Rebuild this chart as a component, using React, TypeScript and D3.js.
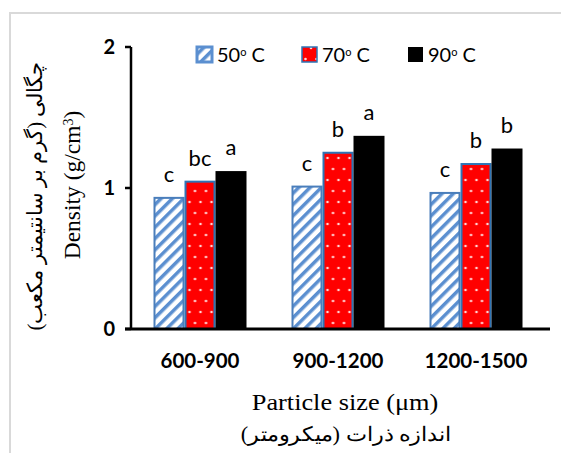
import React from 'react';
import * as d3 from 'd3';

// chart data
const sizes = ['600-900', '900-1200', '1200-1500'];
const temps = ['50', '70', '90'];
const density50 = [0.93, 1.01, 0.965];
const density70 = [1.045, 1.25, 1.17];
const density90 = [1.12, 1.37, 1.28];
const letters50 = ['c', 'c', 'c'];
const letters70 = ['bc', 'b', 'b'];
const letters90 = ['a', 'a', 'b'];
const yTicks = [0, 1, 2];

const seriesValues = [density50, density70, density90];
const seriesLetters = [letters50, letters70, letters90];

export default function App() {
  const width = 561;
  const height = 453;
  const plot = { left: 131, right: 545, top: 47, bottom: 329 };

  const x0 = d3
    .scaleBand<string>()
    .domain(sizes)
    .range([plot.left, plot.right])
    .paddingInner(45 / 138)
    .paddingOuter(45 / 276);
  const x1 = d3.scaleBand<string>().domain(temps).range([0, x0.bandwidth()]).padding(0);
  const y = d3.scaleLinear().domain([0, 2]).range([plot.bottom, plot.top]);

  const fills = ['url(#hatch)', 'url(#dots)', '#000'];
  const strokes = ['#4a7ebb', '#2e75b6', 'none'];
  const calibri = 'Lato, "Open Sans", sans-serif';
  const times = '"Liberation Serif", "DejaVu Serif", serif';

  const legendX = [197, 302, 408];

  return (
    <>
      <style>{`body{margin:0}`}</style>
      <svg width={width} height={height} style={{ display: 'block', background: '#fff' }}>
        <defs>
          <pattern id="hatch" width="8" height="8" patternUnits="userSpaceOnUse" patternTransform="rotate(45)">
            <rect width="8" height="8" fill="#fff" />
            <rect width="3.5" height="8" fill="#5b8fd0" />
          </pattern>
          <pattern id="dots" width="11" height="22" patternUnits="userSpaceOnUse">
            <rect width="11" height="22" fill="#ff0000" />
            <circle cx="3" cy="4" r="1.3" fill="#ffd6d6" />
            <circle cx="8.5" cy="15" r="1.3" fill="#ffd6d6" />
          </pattern>
        </defs>

        {/* frame */}
        <line x1={10} x2={10} y1={12} y2={height} stroke="#d9d9d9" strokeWidth={2} />
        <line x1={9} x2={width} y1={13} y2={13} stroke="#d9d9d9" strokeWidth={2} />

        {/* bars */}
        {sizes.map((s, i) => (
          <g key={s} transform={`translate(${x0(s)},0)`}>
            {temps.map((t, j) => {
              const v = seriesValues[j][i];
              const bx = x1(t)!;
              return (
                <g key={t}>
                  <rect
                    x={bx + (strokes[j] === 'none' ? 0 : 1)}
                    y={y(v)}
                    width={x1.bandwidth() - (strokes[j] === 'none' ? 0 : 2)}
                    height={y(0) - y(v)}
                    fill={fills[j]}
                    stroke={strokes[j]}
                    strokeWidth={2}
                  />
                  <text
                    x={bx + x1.bandwidth() / 2}
                    y={y(v) - 16}
                    textAnchor="middle"
                    fontFamily={calibri}
                    fontSize={22}
                    fill="#000"
                  >
                    {seriesLetters[j][i]}
                  </text>
                </g>
              );
            })}
          </g>
        ))}

        {/* y axis */}
        <line x1={plot.left} x2={plot.left} y1={y(2)} y2={y(0)} stroke="#000" strokeWidth={2.5} />
        {yTicks.map((t) => (
          <g key={t}>
            <line x1={plot.left - 6} x2={plot.left} y1={y(t)} y2={y(t)} stroke="#000" strokeWidth={2.5} />
            <text
              x={115}
              y={y(t)}
              dy="0.35em"
              textAnchor="end"
              fontFamily={calibri}
              fontWeight="bold"
              fontSize={20}
            >
              {t}
            </text>
          </g>
        ))}

        {/* x axis */}
        <line x1={plot.left - 6} x2={550} y1={y(0)} y2={y(0)} stroke="#000" strokeWidth={3} />
        {sizes.map((s) => (
          <text
            key={s}
            x={x0(s)! + x0.bandwidth() / 2}
            y={368}
            textAnchor="middle"
            fontFamily={calibri}
            fontWeight="bold"
            fontSize={20.5}
          >
            {s}
          </text>
        ))}

        {/* axis titles */}
        <text transform="translate(345,410) scale(1.17,1)" textAnchor="middle" fontFamily={times} fontSize={22.5}>
          Particle size (μm)
        </text>
        <text
          transform="translate(346,441) scale(1.12,1)"
          textAnchor="middle"
          fontFamily={times}
          fontSize={20}
          direction="rtl"
        >
          اندازه ذرات (میکرومتر)
        </text>
        <text transform="translate(80,185) rotate(-90)" textAnchor="middle" fontFamily={times} fontSize={23.5}>
          Density (g/cm
          <tspan baselineShift="super" fontSize={14}>3</tspan>)
        </text>
        <text
          transform="translate(42,196) rotate(-90)"
          textAnchor="middle"
          fontFamily={times}
          fontSize={21}
          direction="rtl"
        >
          چگالی (گرم بر سانتیمتر مکعب)
        </text>

        {/* legend */}
        {temps.map((t, j) => (
          <g key={t}>
            <rect
              x={legendX[j]}
              y={47}
              width={15}
              height={15}
              fill={j === 0 ? 'url(#hatch)' : fills[j]}
              stroke={j === 0 ? '#5b8fd0' : strokes[j]}
              strokeWidth={j === 0 ? 3 : 1.5}
            />
            <text x={legendX[j] + 20} y={62} fontFamily={calibri} fontSize={20}>
              {t}
              <tspan baselineShift="super" fontSize={11}>o</tspan> C
            </text>
          </g>
        ))}
      </svg>
    </>
  );
}
